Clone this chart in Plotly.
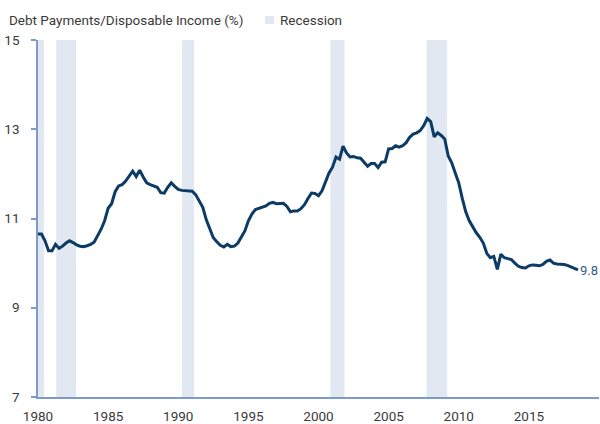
import plotly.graph_objects as go

# Quarterly series, 1980Q1 .. 2018Q3
start_year = 1980
debt_ratio = [
    10.65, 10.65, 10.50, 10.28,   # 1980
    10.28, 10.42, 10.33, 10.38,   # 1981
    10.45, 10.50, 10.46, 10.41,   # 1982
    10.38, 10.37, 10.39, 10.42,   # 1983
    10.47, 10.62, 10.76, 10.95,   # 1984
    11.23, 11.33, 11.60, 11.73,   # 1985
    11.76, 11.84, 11.95, 12.06,   # 1986
    11.94, 12.08, 11.93, 11.80,   # 1987
    11.76, 11.73, 11.70, 11.58,   # 1988
    11.57, 11.70, 11.80, 11.72,   # 1989
    11.65, 11.63, 11.62, 11.62,   # 1990
    11.61, 11.53, 11.38, 11.25,   # 1991
    10.97, 10.75, 10.57, 10.48,   # 1992
    10.40, 10.36, 10.42, 10.37,   # 1993
    10.38, 10.45, 10.60, 10.72,   # 1994
    10.95, 11.10, 11.20, 11.23,   # 1995
    11.25, 11.28, 11.34, 11.36,   # 1996
    11.33, 11.33, 11.34, 11.27,   # 1997
    11.15, 11.17, 11.17, 11.22,   # 1998
    11.31, 11.45, 11.57, 11.56,   # 1999
    11.51, 11.62, 11.80, 12.02,   # 2000
    12.15, 12.38, 12.33, 12.62,   # 2001
    12.47, 12.38, 12.39, 12.36,   # 2002
    12.35, 12.27, 12.17, 12.23,   # 2003
    12.23, 12.14, 12.26, 12.27,   # 2004
    12.56, 12.57, 12.63, 12.60,   # 2005
    12.63, 12.70, 12.82, 12.89,   # 2006
    12.92, 12.97, 13.08, 13.24,   # 2007
    13.17, 12.83, 12.92, 12.86,   # 2008
    12.78, 12.40, 12.25, 12.02,   # 2009
    11.80, 11.45, 11.15, 10.95,   # 2010
    10.80, 10.68, 10.58, 10.45,   # 2011
    10.22, 10.12, 10.15, 9.86,    # 2012
    10.20, 10.12, 10.10, 10.08,   # 2013
    10.00, 9.93, 9.90, 9.89,      # 2014
    9.94, 9.96, 9.95, 9.94,       # 2015
    9.97, 10.04, 10.07, 10.00,    # 2016
    9.98, 9.98, 9.97, 9.95,       # 2017
    9.92, 9.88, 9.85,             # 2018
]
dates = [start_year + i / 4 for i in range(len(debt_ratio))]

recession_start = [1980.0, 1981.3, 1990.27, 2000.85, 2007.7]
recession_end = [1980.42, 1982.72, 1991.13, 2001.85, 2009.17]

x_ticks = [1980, 1985, 1990, 1995, 2000, 2005, 2010, 2015]
y_ticks = [7, 9, 11, 13, 15]

last_label = "9.8"
title_text = "Debt Payments/Disposable Income (%)"
legend_text = "Recession"

FONT = "Roboto, Liberation Sans, Arial, sans-serif"
FS = 13.5
LINE = "#0c3b66"
REC = "#e1e8f2"
AXIS = "#7d9bc9"
TEXT = "#3a3a3a"

# plot area in pixels
L, R, T, B = 38, 1, 40, 27
W, H = 600, 424
PW, PH = W - L - R, H - T - B


def px_x(p):
    return (p - L) / PW


def px_y(p):
    return (H - B - p) / PH


fig = go.Figure()
fig.add_trace(go.Scatter(x=dates, y=debt_ratio, mode="lines",
                         line=dict(color=LINE, width=3), showlegend=False,
                         hoverinfo="x+y"))

shapes = []
for s, e in zip(recession_start, recession_end):
    shapes.append(dict(type="rect", xref="x", yref="paper", x0=s, x1=e, y0=0, y1=1,
                       fillcolor=REC, line=dict(width=0), layer="below"))
# legend swatch
shapes.append(dict(type="rect", xref="paper", yref="paper",
                   x0=px_x(265), x1=px_x(274), y0=px_y(24), y1=px_y(16),
                   fillcolor=REC, line=dict(width=0)))

annotations = [
    dict(x=dates[-1], y=debt_ratio[-1], xref="x", yref="y", text=last_label,
         showarrow=False, xanchor="left", yanchor="middle", xshift=1, yshift=-1,
         borderpad=0,
         font=dict(family=FONT, size=13, color="#2f5a85")),
    dict(x=px_x(7), y=px_y(20), xref="paper", yref="paper", text=title_text,
         showarrow=False, xanchor="left", yanchor="middle",
         font=dict(family=FONT, size=FS, color=TEXT)),
    dict(x=px_x(278), y=px_y(20), xref="paper", yref="paper", text=legend_text,
         showarrow=False, xanchor="left", yanchor="middle",
         font=dict(family=FONT, size=FS, color=TEXT)),
]

fig.update_layout(
    width=W, height=H,
    margin=dict(l=L, r=R, t=T, b=B, autoexpand=False),
    paper_bgcolor="white", plot_bgcolor="white",
    font=dict(family=FONT, size=FS, color=TEXT),
    shapes=shapes, annotations=annotations,
    showlegend=False,
    xaxis=dict(range=[1980, 2020], tickvals=x_ticks, ticktext=[str(v) for v in x_ticks],
               showgrid=False, zeroline=False, showline=True, linecolor=AXIS, linewidth=1.5,
               ticks="", ticklabelstandoff=6, automargin=False,
               tickfont=dict(family=FONT, size=FS, color=TEXT)),
    yaxis=dict(range=[7, 15], tickvals=y_ticks, showgrid=False, zeroline=False,
               showline=True, linecolor=AXIS, linewidth=1.5, ticks="outside",
               ticklen=5, tickcolor=AXIS, tickwidth=1.5, ticklabelstandoff=9,
               automargin=False,
               tickfont=dict(family=FONT, size=FS, color=TEXT)),
)

fig.write_html("out.html", config={"displayModeBar": False},
               post_script="document.body.style.margin='0';document.body.style.padding='0';")
